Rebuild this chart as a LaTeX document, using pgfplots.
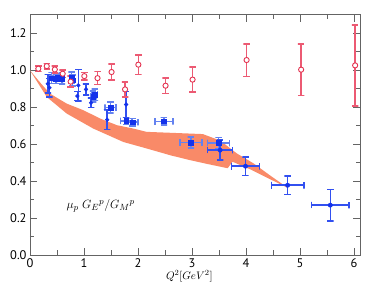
\documentclass[border=0pt]{standalone}
\usepackage{fontspec}
\setmainfont{PT Sans}
\usepackage{pgfplots}
\pgfplotsset{compat=1.18}
\definecolor{band}{RGB}{249,138,104}
\definecolor{bdark}{RGB}{20,50,235}
\definecolor{blight}{RGB}{100,130,240}
\definecolor{bmid}{RGB}{50,80,240}
\definecolor{rmark}{RGB}{228,50,80}
\definecolor{rbar}{RGB}{236,90,115}
\definecolor{axgray}{RGB}{100,100,100}
\begin{document}
\begin{tikzpicture}
\begin{axis}[
  at={(0,0)}, anchor=south west,
  width=330bp, height=240bp, scale only axis,
  xmin=0, xmax=6.11, ymin=0, ymax=1.3,
  xtick={0,1,2,3,4,5,6}, minor x tick num=1,
  ytick={0,0.2,0.4,0.6,0.8,1.0,1.2}, minor y tick num=1,
  tick align=inside,
  major tick length=7bp, minor tick length=4.5bp,
  axis line style={color=axgray, line width=1pt},
  tick style={color=axgray, line width=0.9pt},
  tick label style={font=\fontsize{12.5}{14}\selectfont, text=black},
  /pgf/number format/assume math mode=true,
  yticklabel style={/pgf/number format/fixed, /pgf/number format/fixed zerofill, /pgf/number format/precision=1},
  unbounded coords=jump,
  clip=false,
]
% band
\addplot[fill=band, draw=none] coordinates {
(0,1.0) (0.2,0.93) (0.37,0.874) (0.68,0.82) (0.99,0.784) (1.3,0.739) (1.61,0.703) (1.91,0.685) (2.16,0.667) (2.6,0.662) (3.2,0.655) (3.52,0.62) (3.83,0.55) (4.14,0.496) (4.44,0.432) (4.78,0.362)
(4.45,0.41) (4.07,0.465) (3.75,0.505) (3.66,0.47) (3.3,0.492) (2.96,0.514) (2.6,0.54) (2.16,0.577) (1.73,0.612) (1.17,0.685) (0.68,0.766) (0.31,0.856) (0,1.0)} -- cycle;
% ---- error bars, light blue (squares): vertical with caps
\addplot[draw=blight, line width=1.5pt, no marks] coordinates {
(0.34,0.928) (0.46,0.928) (0.40,0.928) (0.40,0.988) (0.34,0.988) (0.46,0.988) (nan,nan)
(0.42,0.930) (0.54,0.930) (0.48,0.930) (0.48,0.980) (0.42,0.980) (0.54,0.980) (nan,nan)
(0.45,0.944) (0.57,0.944) (0.51,0.944) (0.51,0.984) (0.45,0.984) (0.57,0.984) (nan,nan)
(0.53,0.925) (0.65,0.925) (0.59,0.925) (0.59,0.985) (0.53,0.985) (0.65,0.985) (nan,nan)
(0.71,0.930) (0.83,0.930) (0.77,0.930) (0.77,0.990) (0.71,0.990) (0.83,0.990) (nan,nan)
(0.73,0.916) (0.85,0.916) (0.79,0.916) (0.79,0.976) (0.73,0.976) (0.85,0.976) (nan,nan)
(1.11,0.829) (1.23,0.829) (1.17,0.829) (1.17,0.889) (1.11,0.889) (1.23,0.889) (nan,nan)
(1.14,0.838) (1.26,0.838) (1.20,0.838) (1.20,0.898) (1.14,0.898) (1.26,0.898) (nan,nan)
(1.43,0.768) (1.55,0.768) (1.49,0.768) (1.49,0.828) (1.43,0.828) (1.55,0.828) (nan,nan)
(1.72,0.706) (1.84,0.706) (1.78,0.706) (1.78,0.746) (1.72,0.746) (1.84,0.746) (nan,nan)
(1.84,0.700) (1.96,0.700) (1.90,0.700) (1.90,0.740) (1.84,0.740) (1.96,0.740) (nan,nan)
(2.42,0.704) (2.54,0.704) (2.48,0.704) (2.48,0.744) (2.42,0.744) (2.54,0.744) (nan,nan)
(2.92,0.579) (3.04,0.579) (2.98,0.579) (2.98,0.639) (2.92,0.639) (3.04,0.639) (nan,nan)
(3.43,0.577) (3.55,0.577) (3.49,0.577) (3.49,0.637) (3.43,0.637) (3.55,0.637)
};
% light blue horizontal with caps
\addplot[draw=blight, line width=1.5pt, no marks] coordinates {
(0.37,0.940) (0.37,0.976) (0.37,0.958) (0.43,0.958) (0.43,0.940) (0.43,0.976) (nan,nan)
(0.45,0.937) (0.45,0.973) (0.45,0.955) (0.51,0.955) (0.51,0.937) (0.51,0.973) (nan,nan)
(0.48,0.946) (0.48,0.982) (0.48,0.964) (0.54,0.964) (0.54,0.946) (0.54,0.982) (nan,nan)
(0.56,0.937) (0.56,0.973) (0.56,0.955) (0.62,0.955) (0.62,0.937) (0.62,0.973) (nan,nan)
(0.74,0.942) (0.74,0.978) (0.74,0.960) (0.80,0.960) (0.80,0.942) (0.80,0.978) (nan,nan)
(0.76,0.928) (0.76,0.964) (0.76,0.946) (0.82,0.946) (0.82,0.928) (0.82,0.964) (nan,nan)
(1.12,0.841) (1.12,0.877) (1.12,0.859) (1.22,0.859) (1.22,0.841) (1.22,0.877) (nan,nan)
(1.15,0.850) (1.15,0.886) (1.15,0.868) (1.25,0.868) (1.25,0.850) (1.25,0.886) (nan,nan)
(1.39,0.780) (1.39,0.816) (1.39,0.798) (1.59,0.798) (1.59,0.780) (1.59,0.816) (nan,nan)
(1.68,0.708) (1.68,0.744) (1.68,0.726) (1.88,0.726) (1.88,0.708) (1.88,0.744) (nan,nan)
(1.80,0.702) (1.80,0.738) (1.80,0.720) (2.00,0.720) (2.00,0.702) (2.00,0.738) (nan,nan)
(2.31,0.706) (2.31,0.742) (2.31,0.724) (2.65,0.724) (2.65,0.706) (2.65,0.742) (nan,nan)
(2.78,0.591) (2.78,0.627) (2.78,0.609) (3.18,0.609) (3.18,0.591) (3.18,0.627) (nan,nan)
(3.29,0.589) (3.29,0.625) (3.29,0.607) (3.69,0.607) (3.69,0.589) (3.69,0.625)
};
% mid blue vertical with caps
\addplot[draw=bmid, line width=1.5pt, no marks] coordinates {
(3.46,0.514) (3.58,0.514) (3.52,0.514) (3.52,0.622) (3.46,0.622) (3.58,0.622) (nan,nan)
(3.93,0.431) (4.05,0.431) (3.99,0.431) (3.99,0.531) (3.93,0.531) (4.05,0.531) (nan,nan)
(4.71,0.328) (4.83,0.328) (4.77,0.328) (4.77,0.428) (4.71,0.428) (4.83,0.428) (nan,nan)
(5.50,0.184) (5.62,0.184) (5.56,0.184) (5.56,0.356) (5.50,0.356) (5.62,0.356) (nan,nan)
(0.27,0.878) (0.39,0.878) (0.33,0.878) (0.33,0.978) (0.27,0.978) (0.39,0.978) (nan,nan)
(0.30,0.856) (0.42,0.856) (0.36,0.856) (0.36,0.956) (0.30,0.956) (0.42,0.956) (nan,nan)
(0.817,0.836) (0.937,0.836) (0.877,0.836) (0.877,0.886) (0.817,0.886) (0.937,0.886) (nan,nan)
(0.835,0.834) (0.955,0.834) (0.895,0.834) (0.895,1.004) (0.835,1.004) (0.955,1.004) (nan,nan)
(0.977,0.867) (1.097,0.867) (1.037,0.867) (1.037,0.927) (0.977,0.927) (1.097,0.927) (nan,nan)
(1.07,0.800) (1.19,0.800) (1.13,0.800) (1.13,0.850) (1.07,0.850) (1.19,0.850) (nan,nan)
(1.37,0.679) (1.49,0.679) (1.43,0.679) (1.43,0.787) (1.37,0.787) (1.49,0.787) (nan,nan)
(1.72,0.745) (1.84,0.745) (1.78,0.745) (1.78,0.885) (1.72,0.885) (1.84,0.885)
};
% mid blue horizontal with caps
\addplot[draw=bmid, line width=1.5pt, no marks] coordinates {
(3.29,0.550) (3.29,0.586) (3.29,0.568) (3.75,0.568) (3.75,0.550) (3.75,0.586) (nan,nan)
(3.73,0.463) (3.73,0.499) (3.73,0.481) (4.25,0.481) (4.25,0.463) (4.25,0.499) (nan,nan)
(4.47,0.360) (4.47,0.396) (4.47,0.378) (5.07,0.378) (5.07,0.360) (5.07,0.396) (nan,nan)
(5.21,0.252) (5.21,0.288) (5.21,0.270) (5.91,0.270) (5.91,0.252) (5.91,0.288)
};
% red vertical with caps
\addplot[draw=rbar, line width=1.5pt, no marks] coordinates {
(0.094,0.994) (0.214,0.994) (0.154,0.994) (0.154,1.024) (0.094,1.024) (0.214,1.024) (nan,nan)
(0.25,1.008) (0.37,1.008) (0.31,1.008) (0.31,1.038) (0.25,1.038) (0.37,1.038) (nan,nan)
(0.40,0.985) (0.52,0.985) (0.46,0.985) (0.46,1.025) (0.40,1.025) (0.52,1.025) (nan,nan)
(0.545,0.962) (0.665,0.962) (0.605,0.962) (0.605,1.002) (0.545,1.002) (0.665,1.002) (nan,nan)
(0.693,0.909) (0.813,0.909) (0.753,0.909) (0.753,0.969) (0.693,0.969) (0.813,0.969) (nan,nan)
(0.946,0.949) (1.066,0.949) (1.006,0.949) (1.006,0.989) (0.946,0.989) (1.066,0.989) (nan,nan)
(1.19,0.923) (1.31,0.923) (1.25,0.923) (1.25,0.993) (1.19,0.993) (1.31,0.993) (nan,nan)
(1.45,0.948) (1.57,0.948) (1.51,0.948) (1.51,1.034) (1.45,1.034) (1.57,1.034) (nan,nan)
(1.70,0.857) (1.82,0.857) (1.76,0.857) (1.76,0.937) (1.70,0.937) (1.82,0.937) (nan,nan)
(1.946,0.978) (2.066,0.978) (2.006,0.978) (2.006,1.084) (1.946,1.084) (2.066,1.084) (nan,nan)
(2.45,0.875) (2.57,0.875) (2.51,0.875) (2.51,0.959) (2.45,0.959) (2.57,0.959) (nan,nan)
(2.95,0.882) (3.07,0.882) (3.01,0.882) (3.01,1.018) (2.95,1.018) (3.07,1.018) (nan,nan)
(3.95,0.968) (4.07,0.968) (4.01,0.968) (4.01,1.144) (3.95,1.144) (4.07,1.144) (nan,nan)
(4.96,0.864) (5.08,0.864) (5.02,0.864) (5.02,1.144) (4.96,1.144) (5.08,1.144) (nan,nan)
(5.96,0.807) (6.08,0.807) (6.02,0.807) (6.02,1.247) (5.96,1.247) (6.08,1.247)
};
% ---- markers
\addplot[only marks, mark=square*, mark size=2.3bp, color=bdark] coordinates {
(0.40,0.958) (0.48,0.955) (0.51,0.964) (0.59,0.955) (0.77,0.960) (0.79,0.946) (1.17,0.859) (1.20,0.868) (1.49,0.798) (1.78,0.726) (1.90,0.720) (2.48,0.724) (2.98,0.609) (3.49,0.607)};
\addplot[only marks, mark=*, mark size=2.2bp, color=bdark] coordinates {
(3.52,0.568) (3.99,0.481) (4.77,0.378) (5.56,0.270)};
\addplot[only marks, mark=*, mark size=1.9bp, color=bdark] coordinates {
(0.33,0.928) (0.36,0.906) (0.877,0.861) (0.895,0.919) (1.037,0.897) (1.13,0.825) (1.43,0.733) (1.78,0.815)};
\addplot[only marks, mark=*, mark size=2.6bp, draw=rmark, fill=white, mark options={line width=0.9pt}] coordinates {
(0.154,1.009) (0.31,1.023) (0.46,1.005) (0.605,0.982) (0.753,0.939) (1.006,0.969) (1.25,0.958) (1.51,0.991) (1.76,0.897) (2.006,1.031) (2.51,0.917) (3.01,0.950) (4.01,1.056) (5.02,1.004) (6.02,1.027)};
\node[font=\fontsize{13}{15}\selectfont] at (axis cs:1.31,0.265) {$\mu_p\; G_E{}^p/G_M{}^p$};
\node[font=\fontsize{11}{13}\selectfont] at (axis cs:2.95,-0.117) {$Q^2[GeV^2]$};
\end{axis}
\path (-30bp,-45bp) rectangle (344bp,255bp);
\end{tikzpicture}
\end{document}
